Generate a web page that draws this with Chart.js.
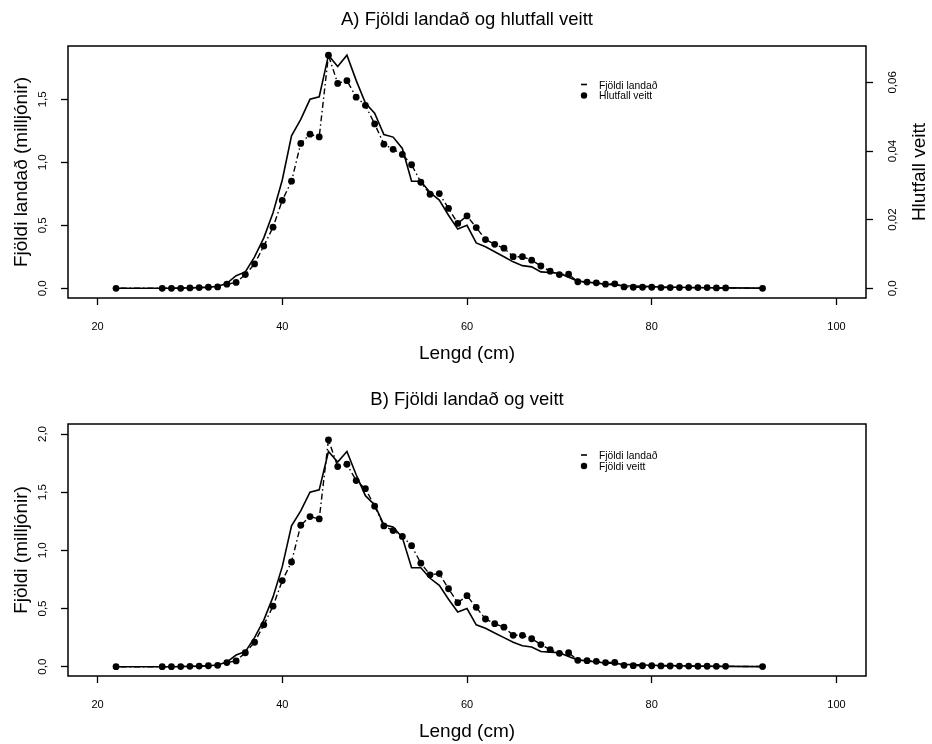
<!DOCTYPE html>
<html>
<head>
<meta charset="utf-8">
<script src="https://cdn.jsdelivr.net/npm/chart.js@4/dist/chart.umd.min.js"></script>
<style>
  html, body { margin: 0; padding: 0; background: #fff; }
  #wrap { position: relative; width: 932px; height: 744px; }
  canvas { position: absolute; left: 0; display: block; }
  #cA { top: 0; }
  #cB { top: 372px; }
</style>
</head>
<body>
<div id="wrap">
  <canvas id="cA" width="932" height="372"></canvas>
  <canvas id="cB" width="932" height="372"></canvas>
</div>
<script>
// ---------- data ----------
const lengths = [22, 27, 28, 29, 30, 31, 32, 33, 34, 35, 36, 37, 38, 39, 40, 41, 42, 43, 44, 45,
  46, 47, 48, 49, 50, 51, 52, 53, 54, 55, 56, 57, 58, 59, 60, 61, 62, 63, 64, 65,
  66, 67, 68, 69, 70, 71, 72, 73, 74, 75, 76, 77, 78, 79, 80, 81, 82, 83, 84, 85,
  86, 87, 88, 92];

// Fjöldi landað (milljónir)
const landed = [0, 0.0, 0.0, 0.002, 0.003, 0.005, 0.008, 0.015, 0.04, 0.10, 0.13, 0.25, 0.40, 0.60, 0.86, 1.21, 1.34, 1.50, 1.52, 1.85,
  1.76, 1.85, 1.65, 1.47, 1.39, 1.22, 1.20, 1.11, 0.85, 0.85, 0.76, 0.70, 0.58, 0.47, 0.50, 0.36, 0.33, 0.29, 0.25, 0.21,
  0.18, 0.17, 0.13, 0.125, 0.12, 0.088, 0.057, 0.05, 0.04, 0.032, 0.027, 0.02, 0.018, 0.015, 0.013, 0.01, 0.009, 0.008, 0.006, 0.005,
  0.004, 0.003, 0.003, 0.001];

// Hlutfall veitt (proportion)
const hlutfallVeitt = [0, 0.0, 0.0, 0.0, 0.0001, 0.0002, 0.0003, 0.0004, 0.0012, 0.0017, 0.0040, 0.0071, 0.0123, 0.0178, 0.0256, 0.0312, 0.0422, 0.0449, 0.0441, 0.0679,
  0.0597, 0.0605, 0.0557, 0.0533, 0.0479, 0.0420, 0.0405, 0.0390, 0.0360, 0.0309, 0.0274, 0.0276, 0.0233, 0.0189, 0.0211, 0.0177, 0.0142, 0.0128, 0.0117, 0.0092,
  0.0092, 0.0082, 0.0065, 0.0050, 0.0040, 0.0041, 0.0019, 0.0018, 0.0016, 0.0012, 0.0013, 0.0004, 0.0003, 0.0003, 0.0003, 0.0002, 0.0002, 0.0002, 0.0002, 0.0002,
  0.0002, 0.0001, 0.0001, 0.0];

// Fjöldi veitt (milljónir)
const fjoldiVeitt = [0, 0.0, 0.0, 0.001, 0.003, 0.005, 0.008, 0.012, 0.035, 0.05, 0.12, 0.21, 0.36, 0.52, 0.74, 0.90, 1.216, 1.29, 1.27, 1.95,
  1.72, 1.74, 1.60, 1.53, 1.38, 1.21, 1.17, 1.12, 1.04, 0.89, 0.79, 0.80, 0.67, 0.55, 0.61, 0.51, 0.41, 0.37, 0.34, 0.27,
  0.27, 0.24, 0.19, 0.146, 0.115, 0.12, 0.055, 0.052, 0.046, 0.035, 0.037, 0.012, 0.009, 0.008, 0.008, 0.007, 0.006, 0.005, 0.005, 0.004,
  0.004, 0.003, 0.003, 0.001];

const xTicks = [20, 40, 60, 80, 100];
const yTicksA = [0, 0.5, 1.0, 1.5];
const yTickLabelsA = ['0,0', '0,5', '1,0', '1,5'];
const y2TicksA = [0, 0.02, 0.04, 0.06];
const y2TickLabelsA = ['0,0', '0,02', '0,04', '0,06'];
const yTicksB = [0, 0.5, 1.0, 1.5, 2.0];
const yTickLabelsB = ['0,0', '0,5', '1,0', '1,5', '2,0'];

const titleA = 'A) Fjöldi landað og hlutfall veitt';
const titleB = 'B) Fjöldi landað og veitt';
const xTitle = 'Lengd (cm)';
const yTitleA = 'Fjöldi landað (milljónir)';
const y2TitleA = 'Hlutfall veitt';
const yTitleB = 'Fjöldi (milljónir)';
const legendA = ['Fjöldi landað', 'Hlutfall veitt'];
const legendB = ['Fjöldi landað', 'Fjöldi veitt'];

// ---------- helpers ----------
const FONT = '"Liberation Sans", Arial, Helvetica, sans-serif';
const pts = (xs, ys) => xs.map((x, i) => ({ x: x, y: ys[i] }));

const rPlot = {
  id: 'rPlot',
  afterDraw(chart, args, o) {
    const { ctx, chartArea: a } = chart;
    const cx = (a.left + a.right) / 2;
    const cy = (a.top + a.bottom) / 2;
    ctx.save();
    // box
    ctx.strokeStyle = '#000';
    ctx.lineWidth = 1.5;
    ctx.strokeRect(a.left, a.top, a.right - a.left, a.bottom - a.top);
    ctx.fillStyle = '#000';
    ctx.textAlign = 'center';
    ctx.textBaseline = 'middle';
    // main title
    ctx.font = '18.5px ' + FONT;
    ctx.fillText(o.title, cx, a.top - o.titleGap);
    // x title
    ctx.font = '19px ' + FONT;
    ctx.fillText(o.xTitle, cx, a.bottom + 55.5);
    // y tick labels (rotated, as in R)
    ctx.font = '11.5px ' + FONT;
    o.yAxes.forEach(ax => {
      const s = chart.scales[ax.id];
      ax.ticks.forEach((v, i) => {
        const y = s.getPixelForValue(v);
        ctx.save();
        ctx.translate(ax.labelX, y);
        ctx.rotate(-Math.PI / 2);
        ctx.fillText(ax.labels[i], 0, 0);
        ctx.restore();
      });
      ctx.save();
      ctx.font = '19px ' + FONT;
      ctx.translate(ax.titleX, cy);
      ctx.rotate(-Math.PI / 2);
      ctx.fillText(ax.title, 0, 0);
      ctx.restore();
    });
    // legend
    const lg = o.legend;
    ctx.font = '10.3px ' + FONT;
    ctx.textAlign = 'left';
    lg.labels.forEach((t, i) => {
      const y = lg.y[i];
      ctx.fillText(t, lg.textX, y);
      if (i === 0) {
        ctx.lineWidth = 1.6;
        ctx.beginPath();
        ctx.moveTo(lg.symX - 3, y - 1.5);
        ctx.lineTo(lg.symX + 3, y - 1.5);
        ctx.stroke();
      } else {
        ctx.beginPath();
        ctx.arc(lg.symX, y - 1, 3.2, 0, Math.PI * 2);
        ctx.fill();
      }
    });
    ctx.restore();
  }
};

function xScale(h) {
  return {
    type: 'linear', position: 'bottom', min: 16.8, max: 103.2,
    afterBuildTicks: s => { s.ticks = xTicks.map(v => ({ value: v })); },
    afterFit: s => { s.height = h; },
    grid: { display: true, drawOnChartArea: false, drawTicks: true, tickLength: 7, tickWidth: 1.3, tickColor: '#000' },
    border: { display: false },
    ticks: { color: '#000', font: { size: 11, family: FONT }, padding: 15, maxRotation: 0, autoSkip: false }
  };
}
function yScale(pos, min, max, ticks, w) {
  return {
    type: 'linear', position: pos, min: min, max: max,
    afterBuildTicks: s => { s.ticks = ticks.map(v => ({ value: v })); },
    afterFit: s => { s.width = w; },
    grid: { display: true, drawOnChartArea: false, drawTicks: true, tickLength: 7, tickWidth: 1.3, tickColor: '#000' },
    border: { display: false },
    ticks: { display: false }
  };
}

const landedStyle = {
  borderColor: '#000', backgroundColor: '#000', borderWidth: 1.6,
  pointRadius: 0, tension: 0, fill: false
};
const dotStyle = {
  borderColor: '#000', backgroundColor: '#000', borderWidth: 1.4,
  borderDash: [1.5, 3, 6, 3],
  pointRadius: 3.4, pointBorderWidth: 0, pointBackgroundColor: '#000',
  tension: 0, fill: false
};

// ---------- Chart A ----------
new Chart(document.getElementById('cA'), {
  type: 'line',
  data: {
    datasets: [
      Object.assign({ label: legendA[0], data: pts(lengths, landed), yAxisID: 'y' }, landedStyle),
      Object.assign({ label: legendA[1], data: pts(lengths, hlutfallVeitt), yAxisID: 'y2' }, dotStyle)
    ]
  },
  options: {
    responsive: false, animation: false, devicePixelRatio: 1,
    layout: { padding: { top: 46, left: 0, right: 0, bottom: 0 } },
    scales: {
      x: xScale(74),
      y: yScale('left', -0.077, 1.923, yTicksA, 68),
      y2: yScale('right', -0.00283, 0.0706, y2TicksA, 66)
    },
    plugins: {
      legend: { display: false }, tooltip: { enabled: false },
      rPlot: {
        title: titleA, titleGap: 26, xTitle: xTitle,
        yAxes: [
          { id: 'y', ticks: yTicksA, labels: yTickLabelsA, labelX: 42.5, title: yTitleA, titleX: 22 },
          { id: 'y2', ticks: y2TicksA, labels: y2TickLabelsA, labelX: 893, title: y2TitleA, titleX: 920 }
        ],
        legend: { labels: legendA, y: [86, 96.5], symX: 584, textX: 599 }
      }
    }
  },
  plugins: [rPlot]
});

// ---------- Chart B ----------
new Chart(document.getElementById('cB'), {
  type: 'line',
  data: {
    datasets: [
      Object.assign({ label: legendB[0], data: pts(lengths, landed), yAxisID: 'y' }, landedStyle),
      Object.assign({ label: legendB[1], data: pts(lengths, fjoldiVeitt), yAxisID: 'y' }, dotStyle)
    ]
  },
  options: {
    responsive: false, animation: false, devicePixelRatio: 1,
    layout: { padding: { top: 52, left: 0, right: 66, bottom: 0 } },
    scales: {
      x: xScale(68),
      y: yScale('left', -0.08, 2.086, yTicksB, 68)
    },
    plugins: {
      legend: { display: false }, tooltip: { enabled: false },
      rPlot: {
        title: titleB, titleGap: 24, xTitle: xTitle,
        yAxes: [
          { id: 'y', ticks: yTicksB, labels: yTickLabelsB, labelX: 43, title: yTitleB, titleX: 22 }
        ],
        legend: { labels: legendB, y: [84.5, 95], symX: 584, textX: 599 }
      }
    }
  },
  plugins: [rPlot]
});
</script>
</body>
</html>
